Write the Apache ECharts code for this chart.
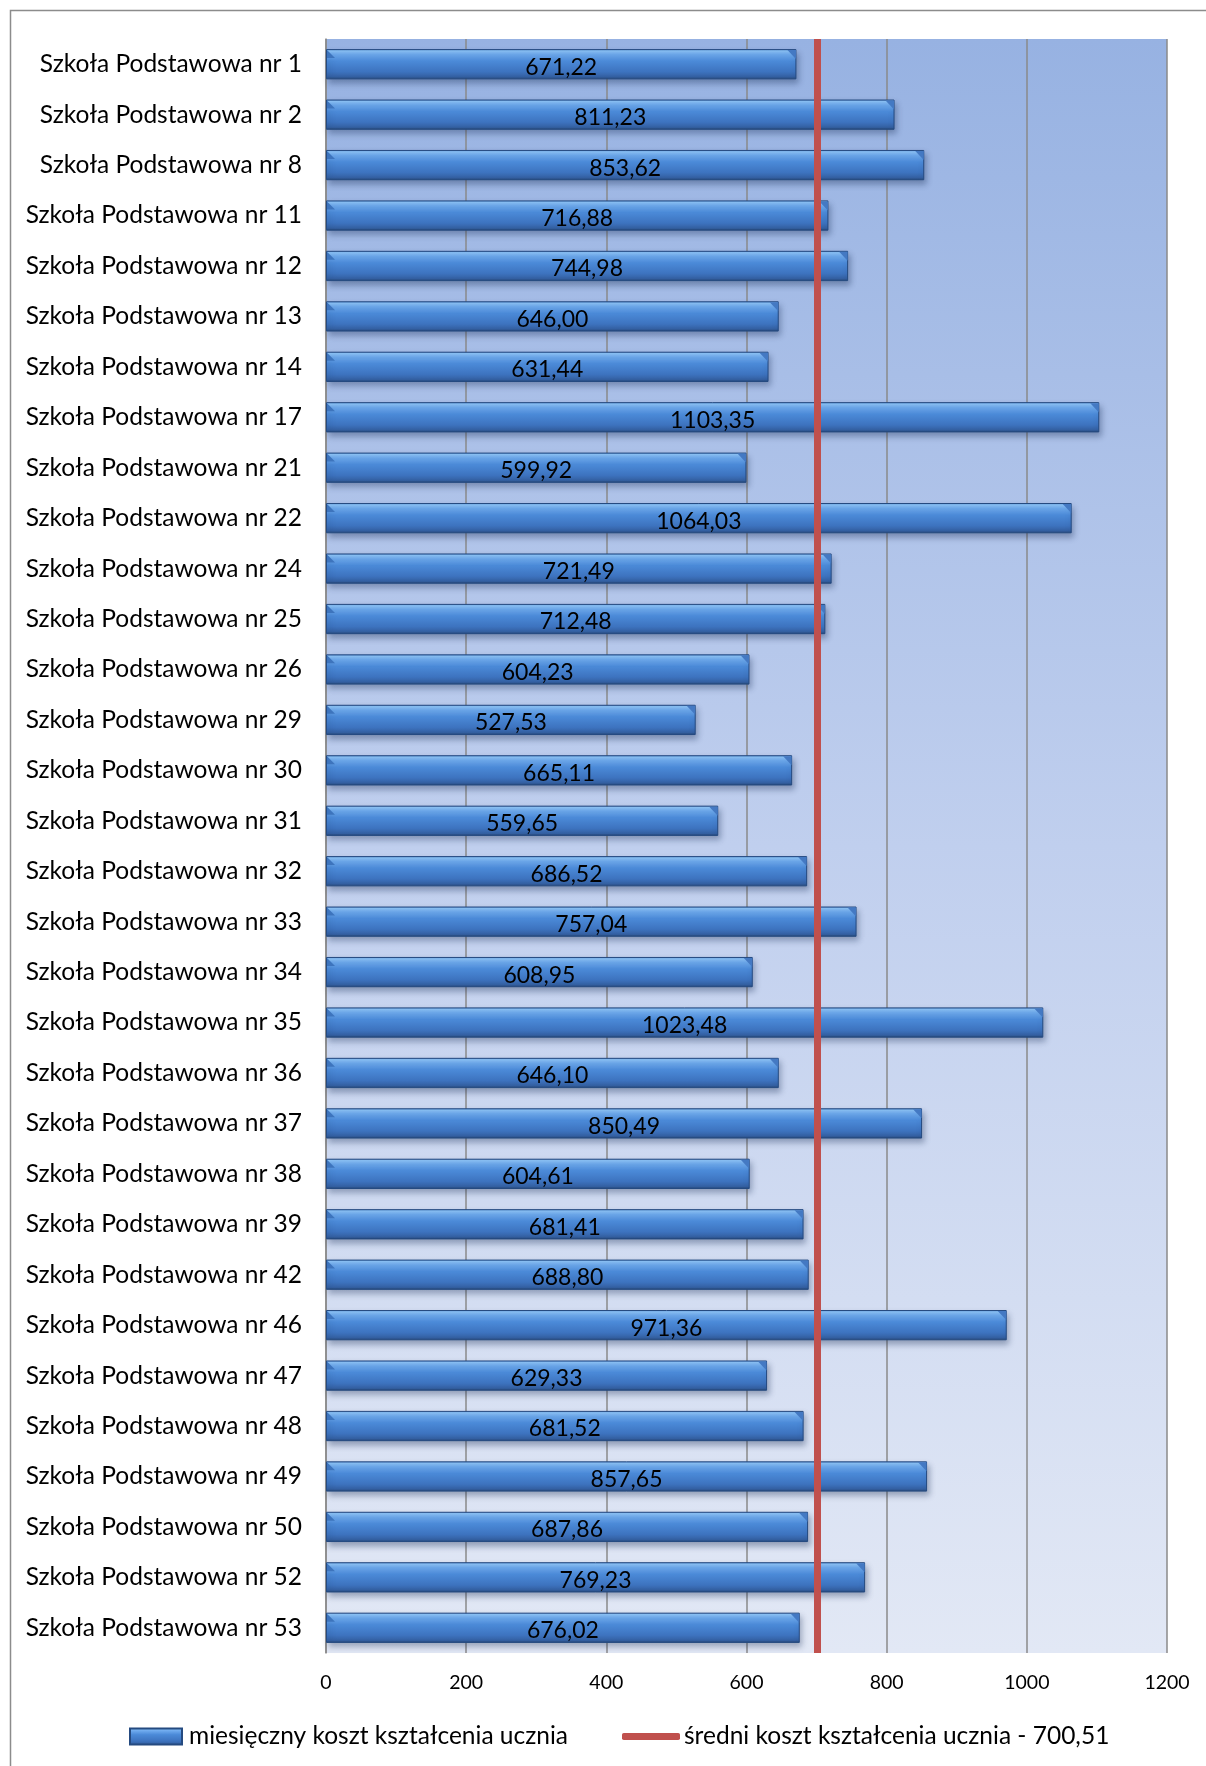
<!DOCTYPE html>
<html>
<head>
<meta charset="utf-8">
<script src="https://cdn.jsdelivr.net/npm/echarts@6/dist/echarts.min.js"></script>
<style>
html,body{margin:0;padding:0;background:#ffffff;}
#chart{width:1206px;height:1766px;}
</style>
</head>
<body>
<div id="chart"></div>
<script>
const categories = [
  'Szkoła Podstawowa nr 1', 'Szkoła Podstawowa nr 2', 'Szkoła Podstawowa nr 8',
  'Szkoła Podstawowa nr 11', 'Szkoła Podstawowa nr 12', 'Szkoła Podstawowa nr 13',
  'Szkoła Podstawowa nr 14', 'Szkoła Podstawowa nr 17', 'Szkoła Podstawowa nr 21',
  'Szkoła Podstawowa nr 22', 'Szkoła Podstawowa nr 24', 'Szkoła Podstawowa nr 25',
  'Szkoła Podstawowa nr 26', 'Szkoła Podstawowa nr 29', 'Szkoła Podstawowa nr 30',
  'Szkoła Podstawowa nr 31', 'Szkoła Podstawowa nr 32', 'Szkoła Podstawowa nr 33',
  'Szkoła Podstawowa nr 34', 'Szkoła Podstawowa nr 35', 'Szkoła Podstawowa nr 36',
  'Szkoła Podstawowa nr 37', 'Szkoła Podstawowa nr 38', 'Szkoła Podstawowa nr 39',
  'Szkoła Podstawowa nr 42', 'Szkoła Podstawowa nr 46', 'Szkoła Podstawowa nr 47',
  'Szkoła Podstawowa nr 48', 'Szkoła Podstawowa nr 49', 'Szkoła Podstawowa nr 50',
  'Szkoła Podstawowa nr 52', 'Szkoła Podstawowa nr 53'
];
const monthlyCost = [
  671.22, 811.23, 853.62, 716.88, 744.98, 646.00, 631.44, 1103.35, 599.92, 1064.03,
  721.49, 712.48, 604.23, 527.53, 665.11, 559.65, 686.52, 757.04, 608.95, 1023.48,
  646.10, 850.49, 604.61, 681.41, 688.80, 971.36, 629.33, 681.52, 857.65, 687.86,
  769.23, 676.02
];
const averageCost = 700.51;
const xTickMin = 0;
const xTickMax = 1200;
const xTickStep = 200;
const seriesNames = [
  'miesięczny koszt kształcenia ucznia',
  'średni koszt kształcenia ucznia - 700,51'
];

const FONT = 'Lato, "Open Sans", sans-serif';
const fmt = v => v.toFixed(2).replace('.', ',');

const barGradient = new echarts.graphic.LinearGradient(0, 0, 0, 1, [
  { offset: 0, color: '#4a82cc' },
  { offset: 0.06, color: '#8cc3f7' },
  { offset: 0.18, color: '#6eaaee' },
  { offset: 0.4, color: '#4b8ad8' },
  { offset: 0.75, color: '#3d73bf' },
  { offset: 0.92, color: '#3460a2' },
  { offset: 1, color: '#24456f' }
]);

const bevelData = monthlyCost.map((v, i) => [v, i]);

const chart = echarts.init(document.getElementById('chart'), null, { renderer: 'canvas' });
chart.setOption({
  animation: false,
  backgroundColor: '#ffffff',
  graphic: [{
    type: 'rect',
    x: 0, y: 0,
    shape: { x: 10.5, y: 10.5, width: 1400, height: 1900 },
    style: { fill: 'none', stroke: '#8c8c8c', lineWidth: 1.5 },
    silent: true
  }],
  grid: {
    left: 326, right: 39, top: 39, bottom: 113,
    outerBoundsMode: 'none',
    show: true,
    borderWidth: 0,
    backgroundColor: new echarts.graphic.LinearGradient(0, 0, 0, 1, [
      { offset: 0, color: '#97b2e2' },
      { offset: 0.5, color: '#c0cfee' },
      { offset: 1, color: '#e2e8f5' }
    ])
  },
  legend: [{
    data: [{ name: seriesNames[0], icon: 'rect' }],
    left: 129, top: 1724, padding: 0,
    itemWidth: 52, itemHeight: 16,
    textStyle: { fontFamily: FONT, fontSize: 24.5, color: '#000', padding: [0, 0, 0, 2] }
  }, {
    data: [{ name: seriesNames[1], icon: 'roundRect' }],
    left: 622, top: 1724, padding: 0,
    itemWidth: 58, itemHeight: 7,
    textStyle: { fontFamily: FONT, fontSize: 24.5, color: '#000', padding: [0, 0, 0, -1] }
  }],
  xAxis: {
    type: 'value',
    min: xTickMin, max: xTickMax, interval: xTickStep,
    axisLine: { show: false },
    axisTick: { show: false },
    splitLine: { show: true, lineStyle: { color: '#8a8a8a', width: 1.5 } },
    axisLabel: { fontFamily: FONT, fontSize: 19.5, color: '#000', margin: 20, formatter: v => String(v) }
  },
  yAxis: {
    type: 'category',
    data: categories,
    inverse: true,
    axisLine: { show: true, lineStyle: { color: '#8a8a8a', width: 1.5 } },
    axisTick: { show: false },
    axisLabel: { fontFamily: FONT, fontSize: 24.5, color: '#000', margin: 24 }
  },
  series: [{
    name: seriesNames[0],
    type: 'bar',
    data: monthlyCost,
    barCategoryGap: '40%',
    itemStyle: {
      color: barGradient,
      borderColor: '#254a80',
      borderWidth: 1,
      shadowColor: 'rgba(20,40,80,0.35)',
      shadowBlur: 6,
      shadowOffsetX: 2,
      shadowOffsetY: 4
    },
    label: {
      show: true,
      position: 'inside',
      offset: [0, 3],
      fontFamily: FONT,
      fontSize: 23,
      color: '#000',
      formatter: p => fmt(p.value)
    },
    markLine: {
      silent: true,
      symbol: ['none', 'none'],
      label: { show: false },
      lineStyle: { color: '#C0504D', width: 7, type: 'solid', opacity: 1 },
      emphasis: { disabled: true },
      data: [{ xAxis: averageCost }],
      z: 5
    },
    z: 2
  }, {
    type: 'custom',
    name: 'bevel',
    silent: true,
    z: 3,
    data: bevelData,
    encode: { x: 0, y: 1 },
    renderItem: function (params, api) {
      const v = api.value(0);
      const idx = api.value(1);
      const p0 = api.coord([0, idx]);
      const p1 = api.coord([v, idx]);
      const h = api.size([0, 1])[1] * 0.6;
      const y0 = p0[1] - h / 2;
      const b = 9;
      return {
        type: 'group',
        children: [{
          type: 'polygon',
          shape: { points: [[p1[0] - b, y0 + 1], [p1[0] - 0.5, y0 + 1], [p1[0] - 0.5, y0 + b + 1]] },
          style: { fill: '#4479c3' }
        }, {
          type: 'polygon',
          shape: { points: [[p0[0] + 1, y0 + 1], [p0[0] + b, y0 + b], [p0[0] + 1, y0 + b]] },
          style: { fill: '#3d74bd' }
        }]
      };
    }
  }, {
    name: seriesNames[1],
    type: 'line',
    data: [],
    itemStyle: { color: '#C0504D' },
    lineStyle: { color: '#C0504D', width: 7 }
  }]
});
</script>
</body>
</html>
